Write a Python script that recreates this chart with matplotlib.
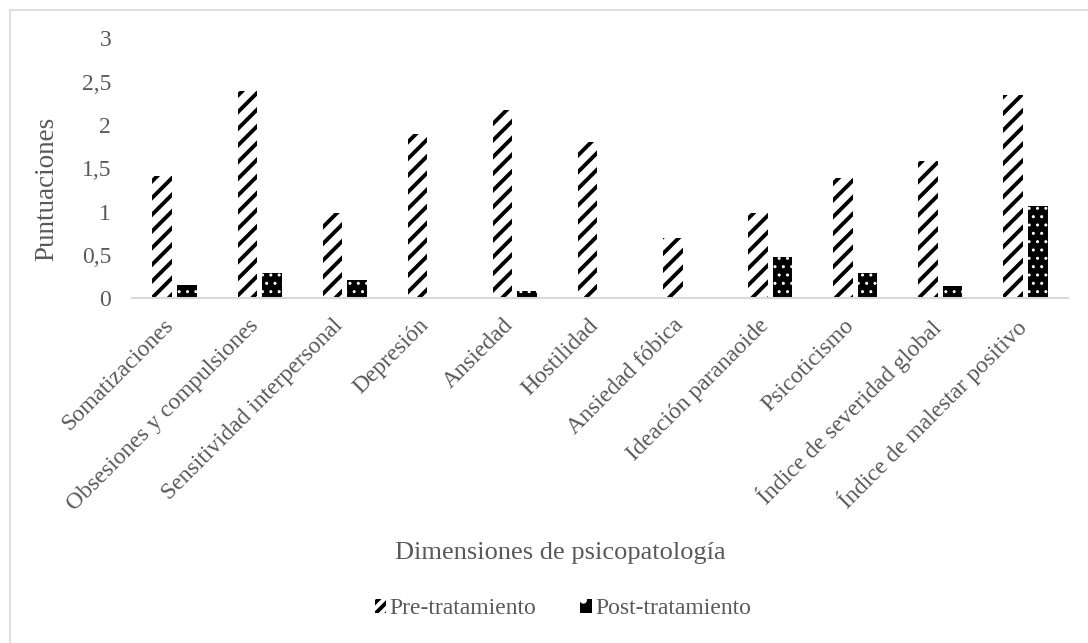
import matplotlib
matplotlib.use("Agg")
import matplotlib.pyplot as plt
import matplotlib.transforms as mtransforms
import numpy as np
from matplotlib.lines import Line2D
from matplotlib.patches import Patch

categories = [
    "Somatizaciones",
    "Obsesiones y compulsiones",
    "Sensitividad interpersonal",
    "Depresión",
    "Ansiedad",
    "Hostilidad",
    "Ansiedad fóbica",
    "Ideación paranaoide",
    "Psicoticismo",
    "Índice de severidad global",
    "Índice de malestar positivo",
]
pre_values = [1.41, 2.39, 0.98, 1.90, 2.18, 1.81, 0.70, 0.98, 1.39, 1.59, 2.35]
post_values = [0.15, 0.29, 0.21, 0.0, 0.08, 0.0, 0.0, 0.48, 0.29, 0.14, 1.07]
series_names = ["Pre-tratamiento", "Post-tratamiento"]
y_ticks = [0, 0.5, 1, 1.5, 2, 2.5, 3]
y_tick_labels = ["0", "0,5", "1", "1,5", "2", "2,5", "3"]

TEXT = "#595959"
GRID = "#d9d9d9"
W, H, DPI = 1088, 643, 100

plt.rcParams["font.family"] = ["Liberation Serif", "DejaVu Serif"]

fig = plt.figure(figsize=(W / DPI, H / DPI), dpi=DPI)
ax = fig.add_axes([132 / W, 1 - 298.3 / H, (1068 - 132) / W, (298.3 - 38.5) / H])

x = np.arange(len(categories))
bw = 0.23
off = 0.145

with plt.rc_context({"hatch.linewidth": 2.8}):
    ax.bar(x - off, pre_values, bw, facecolor="white", edgecolor="black",
           hatch="//", linewidth=0, label=series_names[0])
with plt.rc_context({"hatch.linewidth": 1.0}):
    ax.bar(x + off, post_values, bw, facecolor="black", edgecolor="white",
           hatch="..", linewidth=0, label=series_names[1])

ax.set_xlim(-0.5, len(categories) - 0.5)
ax.set_ylim(0, 3)
ax.set_yticks(y_ticks)
ax.set_yticklabels(y_tick_labels)
ax.set_xticks(x)
ax.set_xticklabels(categories, rotation=45, ha="right", va="top",
                   rotation_mode="anchor")
ax.tick_params(axis="both", length=0, labelsize=17, labelcolor=TEXT)
ax.tick_params(axis="y", pad=15)
ax.tick_params(axis="x", pad=12)

# nudge the slanted category labels to the left of their ticks
shift = mtransforms.ScaledTranslation(-12 / DPI, 0, fig.dpi_scale_trans)
for lbl in ax.get_xticklabels():
    lbl.set_transform(lbl.get_transform() + shift)

for side in ["top", "right", "left"]:
    ax.spines[side].set_visible(False)
ax.spines["bottom"].set_color(GRID)
ax.spines["bottom"].set_linewidth(1.5)

fig.text(47 / W, 1 - 189 / H, "Puntuaciones", rotation=90, ha="center",
         va="center", fontsize=19.5, color=TEXT)
fig.text(560 / W, 1 - 553 / H, "Dimensiones de psicopatología", ha="center",
         va="center", fontsize=19, color=TEXT)

h_pre = Patch(facecolor="white", edgecolor="black", hatch="///", linewidth=0)
h_post = Patch(facecolor="black", edgecolor="white", hatch=".", linewidth=0)
with plt.rc_context({"hatch.linewidth": 2.8}):
    leg = fig.legend([h_pre, h_post], series_names, loc="center",
                     bbox_to_anchor=(563 / W, 1 - 609 / H), ncol=2, frameon=False,
                     fontsize=17, labelcolor=TEXT, handlelength=0.5,
                     handleheight=0.5, handletextpad=0.15, columnspacing=1.85)

# light frame along the left and top edges
fig.add_artist(Line2D([10 / W, 10 / W], [0, 1 - 10 / H], transform=fig.transFigure,
                      color=GRID, linewidth=1.2))
fig.add_artist(Line2D([10 / W, 1], [1 - 10 / H, 1 - 10 / H], transform=fig.transFigure,
                      color=GRID, linewidth=1.2))

fig.savefig("out.png", dpi=DPI, facecolor="white")
